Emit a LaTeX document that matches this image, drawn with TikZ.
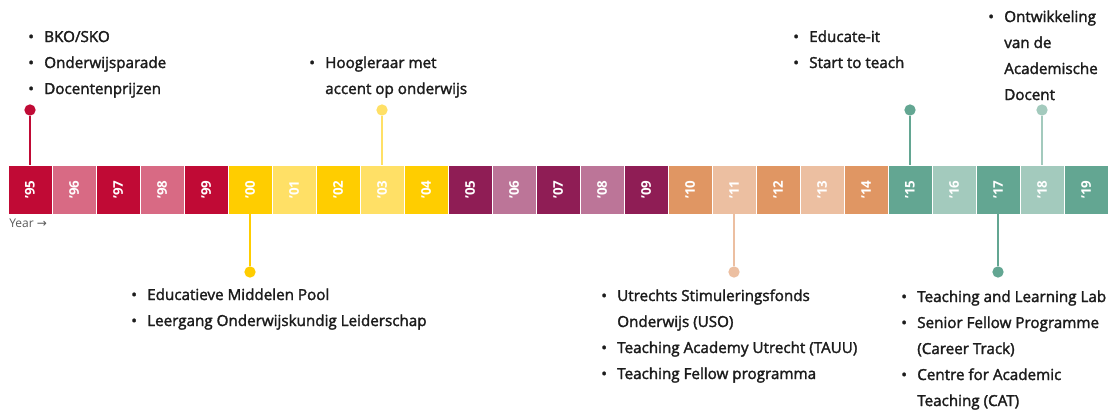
\documentclass[tikz,border=0pt]{standalone}
\usepackage{fontspec}
\setmainfont{Open Sans}
\newfontfamily\itemfont{Open Sans}[FakeBold=2]
\newfontfamily\arrowfont{DejaVu Sans}
\usepackage{tikz}
\usetikzlibrary{positioning}

\definecolor{uured}{HTML}{C00A35}
\definecolor{uuredl}{HTML}{D86A84}
\definecolor{uuyel}{HTML}{FFCD00}
\definecolor{uuyell}{HTML}{FFE066}
\definecolor{uubor}{HTML}{8F1D55}
\definecolor{uuborl}{HTML}{BC7598}
\definecolor{uuora}{HTML}{E09663}
\definecolor{uuoral}{HTML}{ECBFA1}
\definecolor{uugrn}{HTML}{63A692}
\definecolor{uugrnl}{HTML}{A3CABD}
\definecolor{txt}{HTML}{1C1C1C}

\newcommand{\itm}{\makebox[12pt][l]{\textbullet}}
\newcommand{\cnt}{\hspace*{12pt}}

\tikzset{
	yearcell/.style={minimum width=33pt, minimum height=36.75pt, inner sep=0pt, draw=white, line width=0.4pt, text=white, font=\bfseries\fontsize{10}{11}\selectfont},
	pindot/.style={circle, minimum size=8.5pt, inner sep=0pt},
	pinline/.style={line width=2.2pt},
	events/.style={anchor=base west, align=left, inner sep=0pt, text=txt, font=\itemfont\fontsize{11.4}{19.5}\selectfont}
}

\begin{document}
\begin{tikzpicture}[x=0.75pt, y=-0.75pt]
	\useasboundingbox (0,0) rectangle (1112,410);
	
	\foreach \yr/\col [count=\i from 0] in {95/uured, 96/uuredl, 97/uured, 98/uuredl, 99/uured,
		00/uuyel, 01/uuyell, 02/uuyel, 03/uuyell, 04/uuyel,
		05/uubor, 06/uuborl, 07/uubor, 08/uuborl, 09/uubor,
		10/uuora, 11/uuoral, 12/uuora, 13/uuoral, 14/uuora,
		15/uugrn, 16/uugrnl, 17/uugrn, 18/uugrnl, 19/uugrn}
		\node[yearcell, fill=\col] (y\yr) at (30+44*\i, 189.5) {\rotatebox{90}{'\yr}};
	
	\node[anchor=west, inner sep=0pt, text=black!65, font=\fontsize{9}{10}\selectfont] (axis) at (9,223) {Year {\arrowfont →}};
	
	% pins above
	\node[pindot, fill=uured] (d95) at (30,110) {};
	\node[pindot, fill=uuyell] (d03) at (382,110) {};
	\node[pindot, fill=uugrn] (d15) at (910,110) {};
	\node[pindot, fill=uugrnl] (d18) at (1042,110) {};
	\draw[pinline, uured] (y95.north) -- (d95);
	\draw[pinline, uuyell] (y03.north) -- (d03);
	\draw[pinline, uugrn] (y15.north) -- (d15);
	\draw[pinline, uugrnl] (y18.north) -- (d18);
	
	% pins below
	\node[pindot, fill=uuyel] (d00) at (250,272) {};
	\node[pindot, fill=uuoral] (d11) at (734,272) {};
	\node[pindot, fill=uugrn] (d17) at (998,272) {};
	\draw[pinline, uuyel] (y00.south) -- (d00);
	\draw[pinline, uuoral] (y11.south) -- (d11);
	\draw[pinline, uugrn] (y17.south) -- (d17);
	
	% base anchor sits on the last line
	\node[events] (e95) at (28,94) {\itm BKO/SKO\\ \itm Onderwijsparade\\ \itm Docentenprijzen};
	\node[events] (e03) at (309,94) {\itm Hoogleraar met\\ \cnt accent op onderwijs};
	\node[events] (e15) at (793,68) {\itm Educate-it\\ \itm Start to teach};
	\node[events] (e18) at (988,100) {\itm Ontwikkeling\\ \cnt van de\\ \cnt Academische\\ \cnt Docent};
	\node[events] (e00) at (131,326) {\itm Educatieve Middelen Pool\\ \itm Leergang Onderwijskundig Leiderschap};
	\node[events] (e11) at (601,379) {\itm Utrechts Stimuleringsfonds\\ \cnt Onderwijs (USO)\\ \itm Teaching Academy Utrecht (TAUU)\\ \itm Teaching Fellow programma};
	\node[events] (e17) at (901,406) {\itm Teaching and Learning Lab\\ \itm Senior Fellow Programme\\ \cnt (Career Track)\\ \itm Centre for Academic\\ \cnt Teaching (CAT)};
\end{tikzpicture}
\end{document}
